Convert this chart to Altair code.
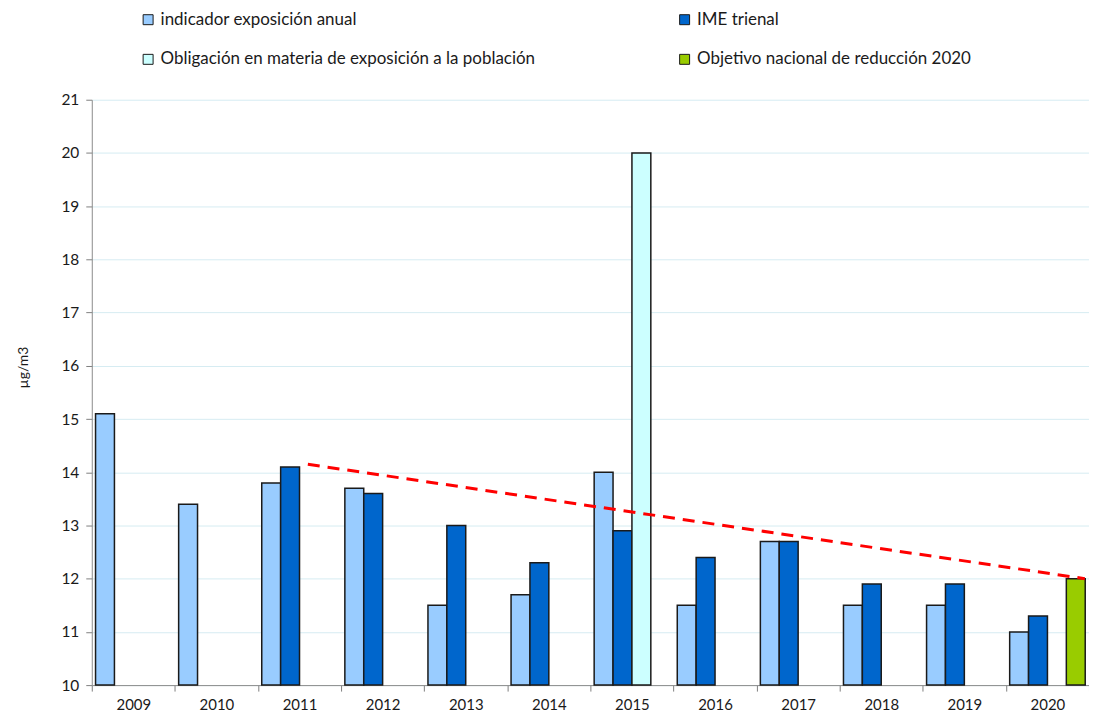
import altair as alt
import pandas as pd

years = [2009, 2010, 2011, 2012, 2013, 2014, 2015, 2016, 2017, 2018, 2019, 2020]
series = ["indicador exposición anual", "IME trienal",
          "Obligación en materia de exposición a la población",
          "Objetivo nacional de reducción 2020"]
colors = ["#99CCFF", "#0066CC", "#CCFFFF", "#99CC00"]
# legend fills column by column: this order gives rows (indicador, IME), (Obligación, Objetivo)
legend_order = [0, 2, 1, 3]

indicador = [15.1, 13.4, 13.8, 13.7, 11.5, 11.7, 14.0, 11.5, 12.7, 11.5, 11.5, 11.0]
ime_years = [2011, 2012, 2013, 2014, 2015, 2016, 2017, 2018, 2019, 2020]
ime = [14.1, 13.6, 13.0, 12.3, 12.9, 12.4, 12.7, 11.9, 11.9, 11.3]
obligacion_years = [2015]
obligacion = [20.0]
objetivo_years = [2020]
objetivo = [12.0]

trend_x = [2011.6, 2020.95]
trend_y = [14.15, 12.0]

rows = []
for y, v in zip(years, indicador):
    rows.append({"year": str(y), "serie": series[0], "value": v})
for y, v in zip(ime_years, ime):
    rows.append({"year": str(y), "serie": series[1], "value": v})
for y, v in zip(obligacion_years, obligacion):
    rows.append({"year": str(y), "serie": series[2], "value": v})
for y, v in zip(objetivo_years, objetivo):
    rows.append({"year": str(y), "serie": series[3], "value": v})
df = pd.DataFrame(rows)
trend = pd.DataFrame({"x": trend_x, "y": trend_y})

FONT = "Lato"
W, H = 1000, 587

yscale = alt.Scale(domain=[10, 21], zero=False, nice=False)

bars = alt.Chart(df).mark_bar(stroke="#1a1a1a", strokeWidth=1.5).encode(
    x=alt.X("year:N", sort=[str(y) for y in years],
            scale=alt.Scale(paddingInner=0, paddingOuter=0),
            axis=alt.Axis(title=None, labelAngle=0, tickBand="extent",
                          labelFontSize=15, labelColor="#1a1a1a", labelFont=FONT,
                          tickColor="#7f7f7f", domainColor="#8c8c8c",
                          tickSize=6, labelPadding=6, grid=False)),
    xOffset=alt.XOffset("serie:N", sort=series,
                        scale=alt.Scale(domain=series, paddingInner=0, paddingOuter=0.2)),
    y=alt.Y("value:Q", scale=yscale,
            axis=alt.Axis(title="µg/m3", values=list(range(10, 22)),
                          labelFontSize=15.5, labelColor="#1a1a1a", labelFont=FONT,
                          titleFont=FONT, titleFontSize=14, titleFontWeight="normal",
                          titleColor="#1a1a1a", titleX=-68, titleY=268,
                          titleBaseline="middle",
                          tickColor="#7f7f7f", domainColor="#8c8c8c",
                          tickSize=6, labelPadding=7,
                          gridColor="#D6ECF2", gridWidth=1)),
    y2=alt.datum(10),
    color=alt.Color("serie:N",
                    scale=alt.Scale(domain=[series[i] for i in legend_order],
                                    range=[colors[i] for i in legend_order]),
                    legend=alt.Legend(title=None, orient="none", legendX=48, legendY=-89,
                                      columns=2, symbolType="square", symbolSize=100,
                                      symbolStrokeColor="#1a1a1a", symbolStrokeWidth=1,
                                      labelFontSize=17, labelFont=FONT, labelColor="#1a1a1a",
                                      labelLimit=600, columnPadding=141, rowPadding=22,
                                      labelOffset=4)),
)

line = alt.Chart(trend).mark_line(color="#FF0000", strokeWidth=3, strokeDash=[12, 8]).encode(
    x=alt.X("x:Q", scale=alt.Scale(domain=[2009, 2021], nice=False, zero=False), axis=None),
    y=alt.Y("y:Q", scale=yscale),
)

chart = alt.layer(bars, line).resolve_scale(x="independent").properties(
    width=W, height=H,
    autosize=alt.AutoSizeParams(type="none"),
    padding={"left": 84, "top": 91, "right": 0, "bottom": 30},
).configure_view(stroke=None)

chart.save("out.html", embed_options={"renderer": "svg", "actions": False})
